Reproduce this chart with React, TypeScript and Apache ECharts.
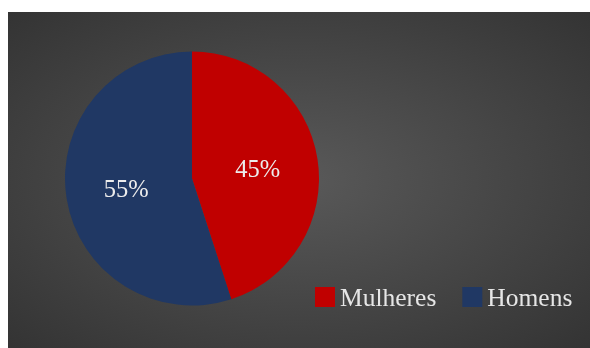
import React, { useEffect, useRef } from "react";
import * as echarts from "echarts";

const categories = ["Mulheres", "Homens"];
const values = [45, 55];
const colors = ["#C00000", "#203864"];

export default function App() {
  const ref = useRef<HTMLDivElement>(null);
  useEffect(() => {
    if (!ref.current) return;
    const chart = echarts.init(ref.current, undefined, { renderer: "svg" });
    const font = "'Liberation Serif', 'Times New Roman', serif";
    chart.setOption({
      animation: false,
      backgroundColor: new echarts.graphic.RadialGradient(0.5, 0.5, 1.0, [
        { offset: 0, color: "#595959" },
        { offset: 1, color: "#242424" },
      ]),
      legend: {
        left: 302,
        top: 267,
        itemWidth: 20,
        itemHeight: 20,
        itemGap: 26,
        icon: "rect",
        data: categories,
        textStyle: { color: "#e6e6e6", fontSize: 25.5, fontFamily: font },
      },
      series: [
        {
          type: "pie",
          center: [184, 166.5],
          radius: [0, 127],
          startAngle: 90,
          clockwise: true,
          label: {
            show: true,
            position: "inside",
            formatter: "{d}%",
            color: "#ececec",
            fontSize: 24.5,
            fontFamily: font,
            textBorderWidth: 0,
          },
          labelLine: { show: false },
          emphasis: { disabled: true },
          itemStyle: { borderWidth: 0 },
          data: categories.map((name, i) => ({
            name,
            value: values[i],
            itemStyle: { color: colors[i] },
          })),
        },
      ],
    });
    return () => chart.dispose();
  }, []);
  return (
    <div
      ref={ref}
      style={{ position: "fixed", left: 8, top: 12, width: 582, height: 336 }}
    />
  );
}
